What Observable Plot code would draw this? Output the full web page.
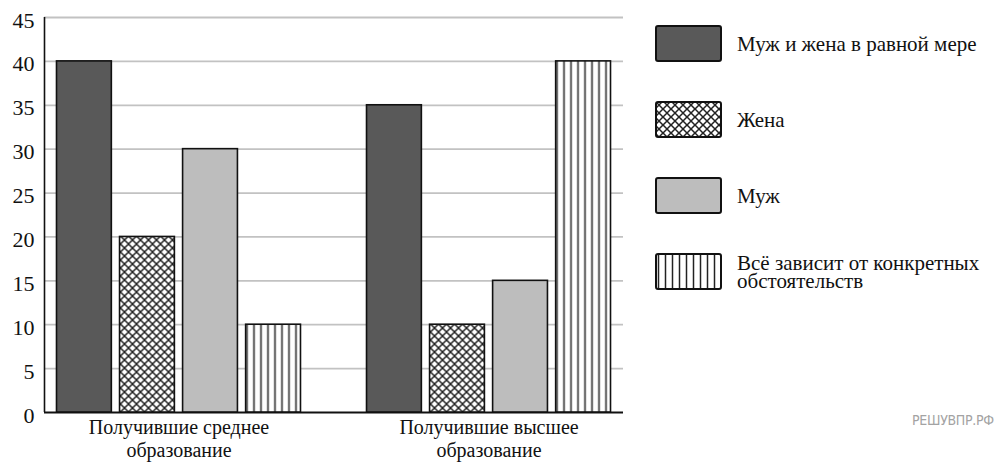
<!DOCTYPE html>
<html>
<head>
<meta charset="utf-8">
<script src="https://cdn.jsdelivr.net/npm/d3@7"></script>
<script src="https://cdn.jsdelivr.net/npm/@observablehq/plot@0.6"></script>
<style>
  html, body { margin: 0; padding: 0; background: #fff; overflow: hidden; }
  #wrap { position: relative; width: 1003px; height: 463px; overflow: hidden; font-family: "Liberation Serif", "Liberation Sans", sans-serif; }
  .layer { position: absolute; left: 0; top: 0; }
  #legend { position: absolute; left: 655px; top: 25px; display: flex; flex-direction: column; gap: 39px; }
  .item { display: flex; align-items: center; height: 37px; white-space: nowrap; }
  .item svg { flex: none; }
  .item span { margin-left: 15px; font-size: 21px; line-height: 18px; white-space: pre; color: #111; }
  #mark { position: absolute; left: 912px; top: 412px; color: #a3a3a3; font-family: "DejaVu Sans Condensed", "DejaVu Sans", sans-serif; font-size: 14px; letter-spacing: -0.3px; }
</style>
</head>
<body>
<svg width="0" height="0" style="position:absolute">
  <defs>
    <pattern id="hatch" width="8" height="8" patternUnits="userSpaceOnUse">
      <rect width="8" height="8" fill="#fff"/>
      <path d="M-2,-2L10,10M10,-2L-2,10" stroke="#222" stroke-width="1.5"/>
    </pattern>
    <pattern id="stripes" width="7" height="10" patternUnits="userSpaceOnUse">
      <rect width="7" height="10" fill="#fff"/>
      <path d="M3.5,0V10" stroke="#222" stroke-width="1.5"/>
    </pattern>
  </defs>
</svg>
<div id="wrap">
  <div id="gridLayer" class="layer"></div>
  <div id="barLayer" class="layer"></div>
  <div id="legend"></div>
  <div id="mark">РЕШУВПР.РФ</div>
</div>
<script>
// ---- data ----
const groups = ["Получившие среднее\nобразование", "Получившие высшее\nобразование"];
const series = ["Муж и жена в равной мере", "Жена", "Муж", "Всё зависит от конкретных обстоятельств"];
const legendLabels = ["Муж и жена в равной мере", "Жена", "Муж", "Всё зависит от конкретных\nобстоятельств"];
const valuesSecondary = [40, 20, 30, 10];
const valuesHigher = [35, 10, 15, 40];
const yTicks = [0, 5, 10, 15, 20, 25, 30, 35, 40, 45];
const fills = ["#595959", "url(#hatch)", "#bdbdbd", "url(#stripes)"];

const table = [
  ...series.map((s, i) => ({group: groups[0], series: s, value: valuesSecondary[i]})),
  ...series.map((s, i) => ({group: groups[1], series: s, value: valuesHigher[i]}))
];

const W = 630, H = 463;
const common = {
  width: W, height: H,
  marginLeft: 44, marginRight: 7, marginTop: 17, marginBottom: 51,
  style: {background: "transparent", fontFamily: "'Liberation Serif', 'Liberation Sans', sans-serif", color: "#111"}
};

// grid + axes layer
const gridPlot = Plot.plot({
  ...common,
  x: {domain: [0, 1], axis: null},
  y: {domain: [0, 45], axis: null},
  marks: [
    Plot.ruleY(yTicks.filter(t => t > 0), {stroke: "#c2c2c2", strokeWidth: 1.8}),
    Plot.ruleX([0], {stroke: "#111", strokeWidth: 1.6}),
    Plot.ruleY([0], {stroke: "#111", strokeWidth: 2}),
    Plot.axisY({ticks: yTicks, tickSize: 0, tickPadding: 10, fontSize: 22, dy: 3, label: null})
  ]
});
document.getElementById("gridLayer").append(gridPlot);

// bars layer
const barPlot = Plot.plot({
  ...common,
  fx: {domain: groups, paddingInner: 0.213, paddingOuter: 0.0403, round: false, label: null},
  x: {domain: series, paddingInner: 0.13, paddingOuter: 0, round: false, axis: null},
  y: {domain: [0, 45], axis: null},
  color: {domain: series, range: fills},
  marks: [
    Plot.barY(table, {fx: "group", x: "series", y: "value", fill: "series", stroke: "#111", strokeWidth: 1.6}),
    Plot.axisFx({anchor: "bottom", tickSize: 0, tickPadding: 5, fontSize: 20, lineHeight: 1.15, label: null})
  ]
});
document.getElementById("barLayer").append(barPlot);

// legend
const legend = document.getElementById("legend");
series.forEach((s, i) => {
  const item = document.createElement("div");
  item.className = "item";
  item.innerHTML = `<svg width="67" height="37"><rect x="1" y="1" width="65" height="35" rx="2" fill="${fills[i]}" stroke="#111" stroke-width="2"/></svg><span></span>`;
  item.querySelector("span").textContent = legendLabels[i];
  legend.append(item);
});
</script>
</body>
</html>
